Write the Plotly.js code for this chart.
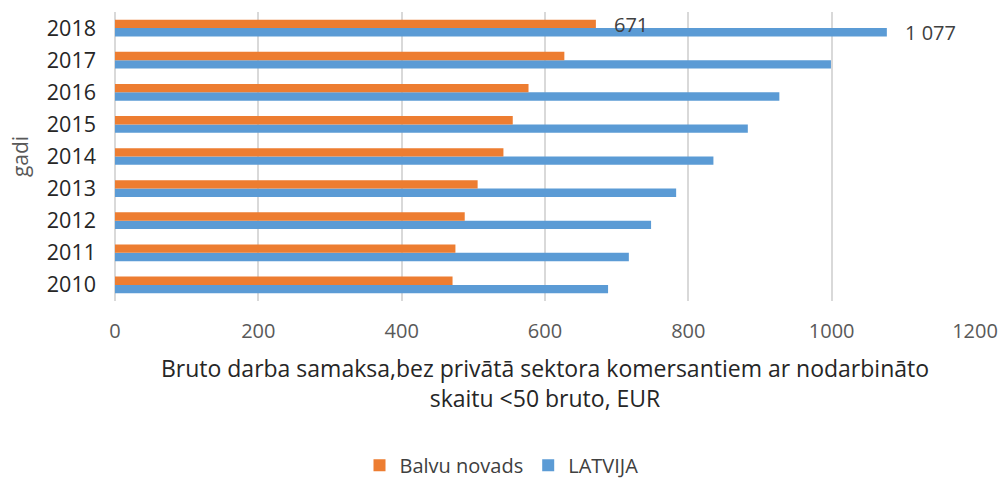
<!DOCTYPE html>
<html><head><meta charset="utf-8">
<script src="https://cdn.plot.ly/plotly-3.0.1.min.js"></script>
<style>html,body{margin:0;padding:0;background:#fff}#c{width:1003px;height:482px}</style>
</head><body><div id="c"></div>
<script>
const years = ['2010','2011','2012','2013','2014','2015','2016','2017','2018'];
const balvu = [471, 475, 488, 506, 542, 555, 577, 627, 671];
const latvija = [688, 717, 748, 783, 835, 883, 927, 999, 1077];
const seriesNames = ['Balvu novads', 'LATVIJA'];
const labelYear = '2018';
const balvuLabel = '671';
const latvijaLabel = '1 077';
const xTicks = [0, 200, 400, 600, 800, 1000, 1200];

const FONT = 'Open Sans, Liberation Sans, sans-serif';
const traces = [
  {type:'bar', orientation:'h', name:seriesNames[1], y:years, x:latvija,
   marker:{color:'#5B9BD5'}},
  {type:'bar', orientation:'h', name:seriesNames[0], y:years, x:balvu,
   marker:{color:'#ED7D31'}}
];
// category index of the labelled year (numeric-looking strings would be read as indices)
const li = years.indexOf(labelYear);
const layout = {
  width:1003, height:482,
  margin:{l:115, r:28, t:12, b:181},
  paper_bgcolor:'#fff', plot_bgcolor:'#fff',
  font:{family:FONT, color:'#595959'},
  barmode:'group', bargap:0.48, bargroupgap:0,
  showlegend:true,
  legend:{orientation:'h', traceorder:'reversed', xref:'container', x:0.5, xanchor:'center',
          yref:'container', y:0.035, yanchor:'middle',
          font:{size:20, color:'#404040'}},
  xaxis:{range:[0,1200], tickvals:xTicks, ticktext:xTicks.map(String),
         showgrid:true, gridcolor:'#D9D9D9', gridwidth:1.5,
         zeroline:true, zerolinecolor:'#D9D9D9', zerolinewidth:1.5,
         showline:false, ticks:'', ticklabelstandoff:16, tickfont:{size:20, color:'#595959'},
         title:{text:'Bruto darba samaksa,bez privātā sektora komersantiem ar nodarbināto<br>skaitu <50 bruto, EUR',
                font:{size:23, color:'#262626'}, standoff:17}},
  yaxis:{type:'category', range:[-0.5, years.length-0.5],
         showgrid:false, zeroline:false, showline:false, ticks:'',
         ticklabelstandoff:18,
         tickfont:{size:21.5, color:'#262626'},
         title:{text:'gadi', font:{size:21, color:'#595959'}, standoff:12}},
  annotations:[
    {x:balvu[li], y:li, xref:'x', yref:'y', text:balvuLabel, showarrow:false,
     xanchor:'left', yanchor:'middle', xshift:16, yshift:4, font:{size:20, color:'#404040'}},
    {x:latvija[li], y:li, xref:'x', yref:'y', text:latvijaLabel, showarrow:false,
     xanchor:'left', yanchor:'middle', xshift:16, yshift:-4, font:{size:20, color:'#404040'}}
  ]
};
Plotly.newPlot('c', traces, layout, {displayModeBar:false});
</script></body></html>
